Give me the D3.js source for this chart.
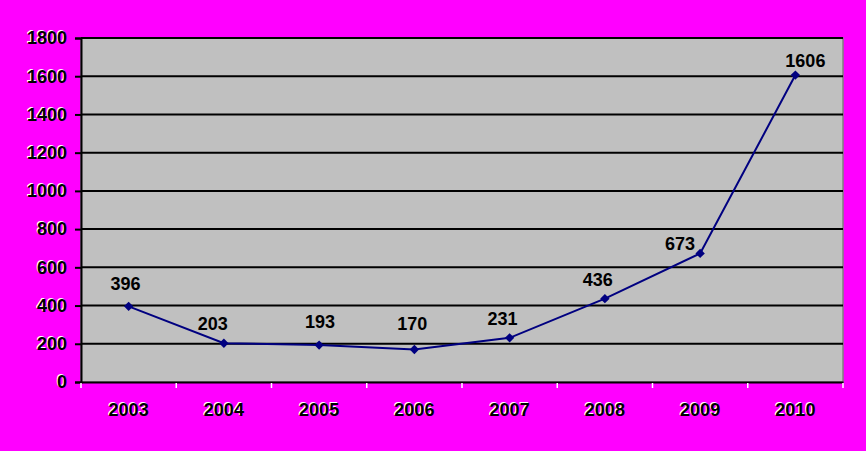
<!DOCTYPE html>
<html><head><meta charset="utf-8">
<script src="https://cdn.jsdelivr.net/npm/d3@7"></script>
<style>body{margin:0;background:#FF00FF;}svg{display:block;}</style>
</head><body>
<svg id="c" width="866" height="451"></svg>
<script>
const categories = ["2003","2004","2005","2006","2007","2008","2009","2010"];
const values = [396,203,193,170,231,436,673,1606];
const yTicks = [0,200,400,600,800,1000,1200,1400,1600,1800];
// label nudges (layout only)
const labelDx = [-3,-11,1,-2,-7,-7,-20,10];
const labelDy = [-23,-20,-23,-26,-19,-19,-10,-14];

const W=866,H=451, L=81, R=843, T=38, B=382;
const FONT="Arial, 'Liberation Sans', sans-serif";
const svg=d3.select("#c");
svg.append("rect").attr("width",W).attr("height",H).attr("fill","#FF00FF");
const x=d3.scaleBand().domain(categories).range([L,R]).padding(0);
const y=d3.scaleLinear().domain([0,1800]).range([B,T]);

svg.append("rect").attr("x",L).attr("y",T).attr("width",R-L).attr("height",B-T)
  .attr("fill","#C0C0C0").attr("stroke","#808080").attr("stroke-width",1.5);

svg.append("g").selectAll("line").data(yTicks.filter(d=>d>0)).join("line")
  .attr("x1",L).attr("x2",R).attr("y1",d=>y(d)).attr("y2",d=>y(d))
  .attr("stroke","#000").attr("stroke-width",2);

const ya=svg.append("g").attr("transform",`translate(${L},0)`)
  .call(d3.axisLeft(y).tickValues(yTicks).tickSize(6));
ya.select(".domain").attr("stroke","#000").attr("stroke-width",2);
ya.selectAll(".tick line").attr("stroke","#000").attr("stroke-width",2);
ya.selectAll(".tick text").remove();
const shadowText=(g,xx,yy,t,anchor)=>{
  g.append("text").attr("x",xx-1).attr("y",yy-1).attr("text-anchor",anchor).attr("dy","0.35em")
   .attr("fill","#fff").text(t);
  g.append("text").attr("x",xx).attr("y",yy).attr("text-anchor",anchor).attr("dy","0.35em")
   .attr("fill","#000").text(t);
};
const yl=svg.append("g").attr("font-family",FONT).attr("font-weight","bold").attr("font-size","18px");
yTicks.forEach(d=>shadowText(yl,67,y(d),String(d),"end"));

const xa=svg.append("g").attr("transform",`translate(0,${B})`)
  .call(d3.axisBottom(x).tickSize(0).tickFormat(""));
xa.select(".domain").attr("stroke","#000").attr("stroke-width",2);
const bounds=categories.map(c=>x(c)).concat([R]);
svg.append("g").selectAll("line").data(bounds).join("line")
  .attr("x1",d=>d).attr("x2",d=>d).attr("y1",B+1).attr("y2",B+6)
  .attr("stroke","#fff").attr("stroke-width",1.5);
const xl=svg.append("g").attr("font-family",FONT).attr("font-weight","bold").attr("font-size","18px");
categories.forEach(c=>shadowText(xl,x(c)+x.bandwidth()/2,410,c,"middle"));

const cx=c=>x(c)+x.bandwidth()/2;
svg.append("path").datum(values)
  .attr("d",d3.line().x((d,i)=>cx(categories[i])).y(d=>y(d)))
  .attr("fill","none").attr("stroke","#000080").attr("stroke-width",2);
svg.append("g").selectAll("path").data(values).join("path")
  .attr("transform",(d,i)=>`translate(${cx(categories[i])},${y(d)}) rotate(45)`)
  .attr("d",d3.symbol(d3.symbolSquare,44))
  .attr("fill","#000080");

svg.append("g").selectAll("text").data(values).join("text")
  .attr("x",(d,i)=>cx(categories[i])+labelDx[i]).attr("y",(d,i)=>y(d)+labelDy[i]).attr("dy","0.35em")
  .attr("text-anchor","middle").attr("font-family",FONT)
  .attr("font-weight","bold").attr("font-size","18px").attr("fill","#000").text(d=>d);
</script>
</body></html>
